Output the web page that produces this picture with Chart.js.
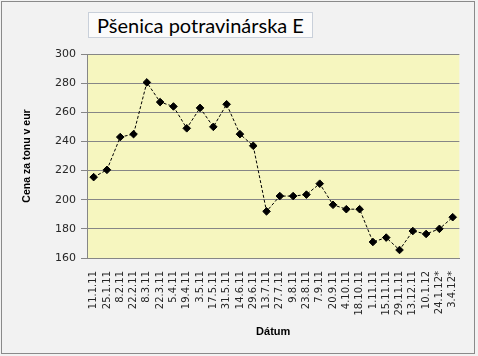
<!DOCTYPE html>
<html>
<head>
<meta charset="utf-8">
<script src="https://cdn.jsdelivr.net/npm/chart.js@4/dist/chart.umd.min.js"></script>
<style>
  html, body { margin: 0; padding: 0; background: #f2f2f2; }
  #wrap { position: relative; width: 478px; height: 356px; }
  #c { position: absolute; left: 0; top: 0; }
  #title {
    position: absolute; left: 88px; top: 12px; width: 225px; height: 26px;
    border: 1px solid #c9d0da; background: #fbfbfb;
    font-family: Lato, "Open Sans", sans-serif; font-size: 20px; color: #000;
    line-height: 25px; text-align: center; box-sizing: border-box; white-space: nowrap;
  }
</style>
</head>
<body>
<div id="wrap">
  <canvas id="c" width="478" height="356"></canvas>
  <div id="title">Pšenica potravinárska E</div>
</div>
<script>
const categories = ["11.1.11","25.1.11","8.2.11","22.2.11","8.3.11","22.3.11","5.4.11","19.4.11","3.5.11","17.5.11","31.5.11","14.6.11","29.6.11","13.7.11","27.7.11","9.8.11","23.8.11","7.9.11","20.9.11","4.10.11","18.10.11","1.11.11","15.11.11","29.11.11","13.12.11","10.1.12","24.1.12*","3.4.12*"];
const prices = [215.5,220.5,243,245,280.5,267,264,249,263,250,265.5,245,237,192,202.5,202.5,203.5,211,196.5,193.5,193.5,171,174,165.5,178.5,176.5,180,188];
const yTicks = [160,180,200,220,240,260,280,300];
const yTitle = "Cena za tonu v eur";
const xTitle = "Dátum";

const bgPlugin = {
  id: 'bg',
  beforeDraw(chart) {
    const {ctx, chartArea: a} = chart;
    ctx.save();
    ctx.fillStyle = '#f2f2f2';
    ctx.fillRect(0, 0, chart.width, chart.height);
    ctx.strokeStyle = '#8a8a8a';
    ctx.lineWidth = 1;
    ctx.strokeRect(1.5, 1.5, 473, 352);
    ctx.fillStyle = '#f6f6bf';
    ctx.fillRect(a.left, a.top, a.right - a.left, a.bottom - a.top);
    ctx.restore();
  }
};

new Chart(document.getElementById('c'), {
  type: 'line',
  data: {
    labels: categories,
    datasets: [{
      data: prices,
      borderColor: '#000',
      borderWidth: 1,
      borderDash: [3, 2],
      pointStyle: 'rectRot',
      pointRadius: 3.8,
      pointBackgroundColor: '#000',
      pointBorderColor: '#000',
      pointBorderWidth: 1,
      tension: 0
    }]
  },
  options: {
    responsive: false,
    animation: false,
    devicePixelRatio: 1,
    layout: { padding: { left: 0, right: 16, top: 54, bottom: 0 } },
    plugins: { legend: { display: false }, tooltip: { enabled: false }, title: { display: false } },
    scales: {
      x: {
        type: 'category',
        offset: true,
        grid: { display: false, drawTicks: false },
        border: { display: true, color: '#868686' },
        ticks: {
          autoSkip: false, maxRotation: 90, minRotation: 90, padding: 13,
          color: '#262626', font: { family: '"DejaVu Sans"', size: 10 }
        },
        title: {
          display: true, text: xTitle, color: '#000',
          font: { family: '"Liberation Sans", Arial', size: 11, weight: 'bold' },
          padding: { top: 0, bottom: 17 }
        },
        afterFit(s) { s.height = 98; }
      },
      y: {
        min: 160, max: 300,
        afterBuildTicks(s) { s.ticks = yTicks.map(v => ({ value: v })); },
        grid: { color: '#868686', lineWidth: 1, drawTicks: true, tickLength: 6 },
        border: { display: true, color: '#868686' },
        ticks: {
          padding: 5, color: '#262626',
          font: { family: '"DejaVu Sans"', size: 11 }
        },
        title: {
          display: true, text: yTitle, color: '#000',
          font: { family: '"Liberation Sans", Arial', size: 10.5, weight: 'bold' },
          padding: { top: 21, bottom: 0 }
        },
        afterFit(s) { s.width = 87; }
      }
    }
  },
  plugins: [bgPlugin]
});
</script>
</body>
</html>
